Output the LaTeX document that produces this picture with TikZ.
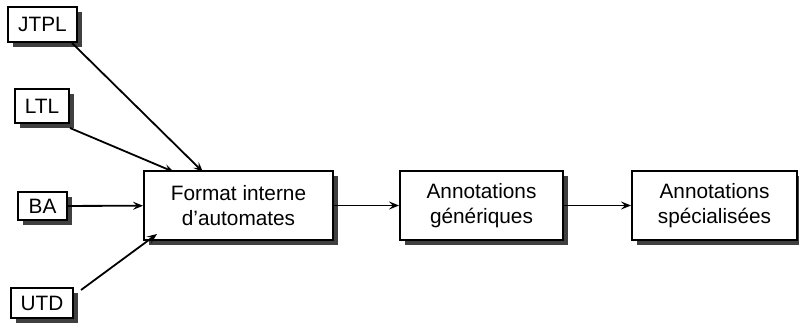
\documentclass[tikz,border=0pt]{standalone}
\usepackage{fontspec}
\setmainfont{Liberation Sans}
\usetikzlibrary{arrows.meta,shadows}
\begin{document}
\begin{tikzpicture}[x=1pt,y=-1pt,
  box/.style={draw,line width=2pt,fill=white,inner sep=0pt,align=center,
    font=\fontsize{20.8}{25}\selectfont,
    drop shadow={shadow xshift=5pt,shadow yshift=-5pt,fill=black!75,opacity=1}},
  conn/.style={line width=1.8pt,-{Stealth[length=10pt,width=8pt,inset=4pt]}}]
\useasboundingbox (0,0) rectangle (799,326);
\node[box,minimum width=69pt,minimum height=35pt] (jtpl) at (42.5,24.5) {JTPL};
\node[box,minimum width=54pt,minimum height=34pt] (ltl) at (42,106) {LTL};
\node[box,minimum width=49pt,minimum height=28pt] (ba) at (42.5,206) {BA};
\node[box,minimum width=62pt,minimum height=30pt] (utd) at (42,303) {UTD};
\node[box,minimum width=189pt,minimum height=69pt] (fmt) at (238.5,205.5) {Format interne\\d’automates};
\node[box,minimum width=163pt,minimum height=69pt] (gen) at (481.5,205.5) {Annotations\\génériques};
\node[box,minimum width=165pt,minimum height=69pt] (spec) at (714.5,205.5) {Annotations\\spécialisées};
\coordinate (fa) at (203,171);
\coordinate (fb) at (174,171);
\coordinate (fc) at (157,240);
\draw[conn] ([xshift=-6pt]jtpl.south east) -- ([yshift=-1pt]fa);
\draw[conn] ([yshift=-4pt]ltl.south east) -- ([yshift=-1pt]fb);
\draw[conn] (ba) -- (fmt);
\draw[conn] ([xshift=7pt,yshift=-3pt]utd.north east) -- ([yshift=6pt]fc);
\draw[conn] (fmt) -- (gen);
\draw[conn] (gen) -- (spec);
\end{tikzpicture}
\end{document}
